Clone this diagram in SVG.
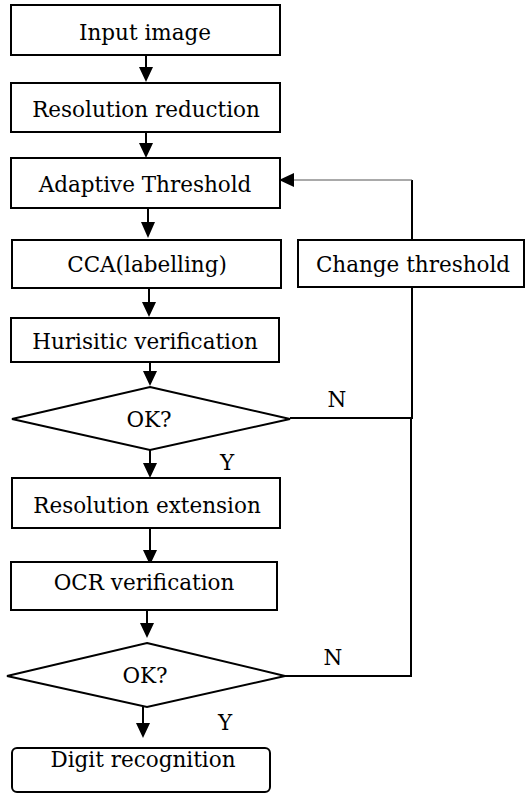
<svg xmlns="http://www.w3.org/2000/svg" width="525" height="793" viewBox="0 0 525 793">
<style>
.box{fill:#fff;stroke:#000;stroke-width:2}
.t{font-family:'DejaVu Serif',serif;font-size:21.5px;fill:#000;text-anchor:middle}
.ln{fill:none;stroke:#000;stroke-width:2}
.thin{fill:none;stroke:#555;stroke-width:1}
</style>
<rect width="525" height="793" fill="#fff"/>
<g id="connectors">
<line class="ln" x1="146" y1="55" x2="146" y2="68"/><polygon points="139,67 153,67 146,82"/>
<line class="ln" x1="146" y1="132" x2="146" y2="144"/><polygon points="139,143 153,143 146,158"/>
<line class="ln" x1="148" y1="208" x2="148" y2="223"/><polygon points="141,222 155,222 148,238"/>
<line class="ln" x1="149" y1="288" x2="149" y2="303"/><polygon points="142,302 156,302 149,317"/>
<line class="ln" x1="150" y1="362" x2="150" y2="372"/><polygon points="143,371 157,371 150,386"/>
<line class="ln" x1="150" y1="450" x2="150" y2="464"/><polygon points="143,463 157,463 150,478"/>
<line class="ln" x1="150" y1="528" x2="150" y2="551"/><polygon points="143,550 157,550 150,565"/>
<line class="ln" x1="147" y1="610" x2="147" y2="624"/><polygon points="140,623 154,623 147,638"/>
<line class="ln" x1="143" y1="707" x2="143" y2="724"/><polygon points="136,723 150,723 143,738"/>
<polyline class="ln" points="290,418 412,418 412,288"/>
<polyline class="ln" points="285,676 411,676 411,418"/>
<line class="ln" x1="412" y1="240" x2="412" y2="180"/>
<line class="thin" x1="412" y1="180" x2="292" y2="180"/>
<polygon points="279,180 294,173 294,187"/>
<text class="t" x="337" y="407">N</text>
<text class="t" x="227" y="470">Y</text>
<text class="t" x="333" y="665">N</text>
<text class="t" x="225" y="730">Y</text>
</g>
<g id="input"><rect class="box" x="11" y="5" width="269" height="50"/><text class="t" x="145" y="40">Input image</text></g>
<g id="reduction"><rect class="box" x="11" y="83" width="269" height="49"/><text class="t" x="146" y="117">Resolution reduction</text></g>
<g id="threshold"><rect class="box" x="11" y="158" width="269" height="50"/><text class="t" x="145" y="192">Adaptive Threshold</text></g>
<g id="cca"><rect class="box" x="12" y="240" width="269" height="48"/><text class="t" x="147" y="272">CCA(labelling)</text></g>
<g id="change"><rect class="box" x="298" y="240" width="226" height="47"/><text class="t" x="413" y="272">Change threshold</text></g>
<g id="heuristic"><rect class="box" x="11" y="318" width="268" height="44"/><text class="t" x="145" y="349">Hurisitic verification</text></g>
<g id="ok1"><polygon class="box" points="150,387 290,419 150,450 12,419"/><text class="t" x="149" y="427">OK?</text></g>
<g id="extension"><rect class="box" x="12" y="478" width="268" height="50"/><text class="t" x="147" y="513">Resolution extension</text></g>
<g id="ocr"><rect class="box" x="11" y="562" width="266" height="48"/><text class="t" x="144" y="590">OCR verification</text></g>
<g id="ok2"><polygon class="box" points="147,643 285,676 147,707 7,676"/><text class="t" x="145" y="683">OK?</text></g>
<g id="digit"><rect class="box" x="12" y="748" width="258" height="44" rx="5"/><text class="t" x="143" y="767">Digit recognition</text></g>
</svg>
